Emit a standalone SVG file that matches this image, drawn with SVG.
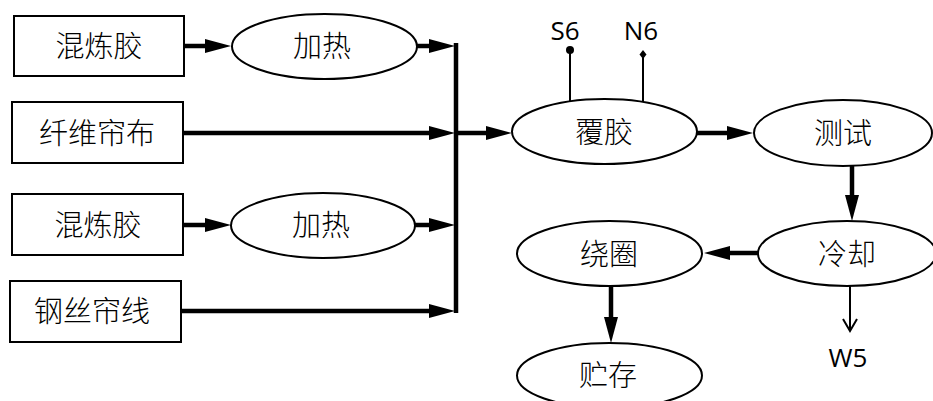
<svg xmlns="http://www.w3.org/2000/svg" width="933" height="401" viewBox="0 0 933 401">
<defs>
<style>
.box{fill:#fff;stroke:#000;stroke-width:2}
.ell{fill:#fff;stroke:#000;stroke-width:2}
.cj{font-family:"Noto Sans CJK SC","Noto Sans",sans-serif;font-size:29px;font-weight:300;fill:#000;text-anchor:middle}
.lb{font-family:"Open Sans","Noto Sans",sans-serif;font-size:26px;fill:#000;text-anchor:middle}
.thick{stroke:#000;stroke-width:4.5;fill:none}
.thin{stroke:#000;stroke-width:2;fill:none}
</style>
<marker id="ah" viewBox="0 0 26 14" refX="14" refY="7" markerWidth="26" markerHeight="14" markerUnits="userSpaceOnUse" orient="auto">
<path d="M0,0 L26,7 L0,14 z" fill="#000"/>
</marker>
<marker id="open" viewBox="0 0 16 16" refX="14" refY="8" markerWidth="16" markerHeight="16" markerUnits="userSpaceOnUse" orient="auto">
<path d="M2,1 L14,8 L2,15" fill="none" stroke="#000" stroke-width="2"/>
</marker>
</defs>
<rect width="933" height="401" fill="#fff"/>
<g id="connectors">
<line class="thick" x1="184" y1="46" x2="219" y2="46" marker-end="url(#ah)"/>
<line class="thick" x1="417" y1="46" x2="443" y2="46" marker-end="url(#ah)"/>
<line class="thick" x1="183" y1="133" x2="443" y2="133" marker-end="url(#ah)"/>
<line class="thick" x1="183" y1="225" x2="219" y2="225" marker-end="url(#ah)"/>
<line class="thick" x1="415" y1="225" x2="443" y2="225" marker-end="url(#ah)"/>
<line class="thick" x1="181" y1="311" x2="443" y2="311" marker-end="url(#ah)"/>
<line class="thick" x1="456" y1="43" x2="456" y2="313"/>
<line class="thick" x1="456" y1="133" x2="500" y2="133" marker-end="url(#ah)"/>
<line class="thick" x1="697" y1="133" x2="741" y2="133" marker-end="url(#ah)"/>
<line class="thick" x1="852" y1="166" x2="852" y2="209" marker-end="url(#ah)"/>
<line class="thick" x1="758" y1="253" x2="716" y2="253" marker-end="url(#ah)"/>
<line class="thick" x1="611" y1="286" x2="611" y2="331" marker-end="url(#ah)"/>
<line class="thin" x1="850" y1="286" x2="850" y2="331" marker-end="url(#open)"/>
<line class="thin" x1="570" y1="50" x2="570" y2="101"/>
<circle cx="570" cy="50" r="4" fill="#000"/>
<line class="thin" x1="643" y1="55" x2="643" y2="102"/>
<path d="M643,50 L646.5,54.5 L643,59 L639.5,54.5 z" fill="#000"/>
</g>
<g id="box1"><rect class="box" x="14" y="16" width="170" height="60"/><text class="cj" x="99" y="57">混炼胶</text></g>
<g id="box2"><rect class="box" x="12" y="102" width="171" height="61"/><text class="cj" x="97" y="144">纤维帘布</text></g>
<g id="box3"><rect class="box" x="12" y="194" width="171" height="61"/><text class="cj" x="98" y="236">混炼胶</text></g>
<g id="box4"><rect class="box" x="10" y="281" width="171" height="61"/><text class="cj" x="92" y="322">钢丝帘线</text></g>
<g id="heat1"><ellipse class="ell" cx="324.5" cy="46.5" rx="92.5" ry="32.5"/><text class="cj" x="322" y="57">加热</text></g>
<g id="heat2"><ellipse class="ell" cx="323" cy="225.5" rx="92" ry="32.5"/><text class="cj" x="321" y="236">加热</text></g>
<g id="coat"><ellipse class="ell" cx="604.5" cy="131.5" rx="92.5" ry="32.5"/><text class="cj" x="604" y="143">覆胶</text></g>
<g id="test"><ellipse class="ell" cx="843" cy="133" rx="89" ry="33"/><text class="cj" x="843" y="144">测试</text></g>
<g id="cool"><ellipse class="ell" cx="847" cy="253.5" rx="89" ry="32.5"/><text class="cj" x="847" y="265">冷却</text></g>
<g id="wind"><ellipse class="ell" cx="609.5" cy="253.5" rx="92.5" ry="32.5"/><text class="cj" x="609" y="265">绕圈</text></g>
<g id="store"><ellipse class="ell" cx="609.5" cy="375.5" rx="92.5" ry="32.5"/><text class="cj" x="608" y="386">贮存</text></g>
<g id="labels">
<text class="lb" x="565" y="40">S6</text>
<text class="lb" x="641" y="40">N6</text>
<text class="lb" x="848" y="367">W5</text>
</g>
</svg>
